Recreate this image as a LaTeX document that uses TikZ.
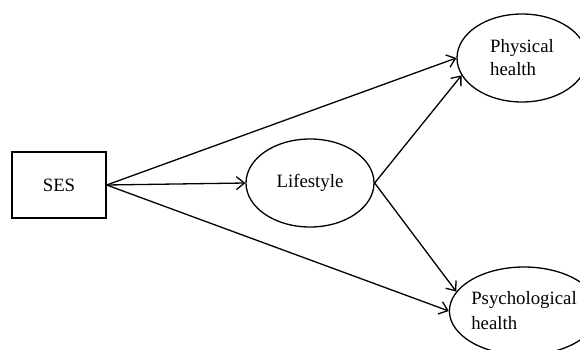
\documentclass[tikz,border=0pt]{standalone}
\usepackage{fontspec}
\setmainfont{Liberation Serif}
\usetikzlibrary{shapes.geometric,arrows.meta}
\begin{document}
\begin{tikzpicture}[x=1pt,y=-1pt,
  every node/.style={font=\fontsize{18.8}{23}\selectfont, inner sep=0pt},
  boxnode/.style={draw, line width=1.3pt, minimum width=94pt, minimum height=66pt},
  ellnode/.style={draw, ellipse, line width=1.3pt, align=left},
  link/.style={line width=1.3pt, -{Straight Barb[length=8pt,width=13pt,line width=1.3pt]}}]
\useasboundingbox (0,0) rectangle (580,350);
\fill[white] (0,0) rectangle (580,350);
\node[boxnode] (ses) at (59,185) {SES};
\node[ellnode, minimum width=128pt, minimum height=88pt] (life) at (310,183) {Lifestyle};
\node[ellnode, minimum width=130pt, minimum height=88pt] (phys) at (522,58) {Physical\\health};
\node[ellnode, minimum width=128pt, minimum height=88pt, font=\fontsize{18.8}{25}\selectfont] (psych) at (524,311) {Psychological\\health};
\draw[link] (ses.east) -- (phys.180);
\draw[link] (ses.east) -- (life.west);
\draw[link] (ses.east) -- (psych.180);
\draw[link] (life.east) -- (phys.196);
\draw[link] (life.east) -- (psych.164);
\end{tikzpicture}
\end{document}
